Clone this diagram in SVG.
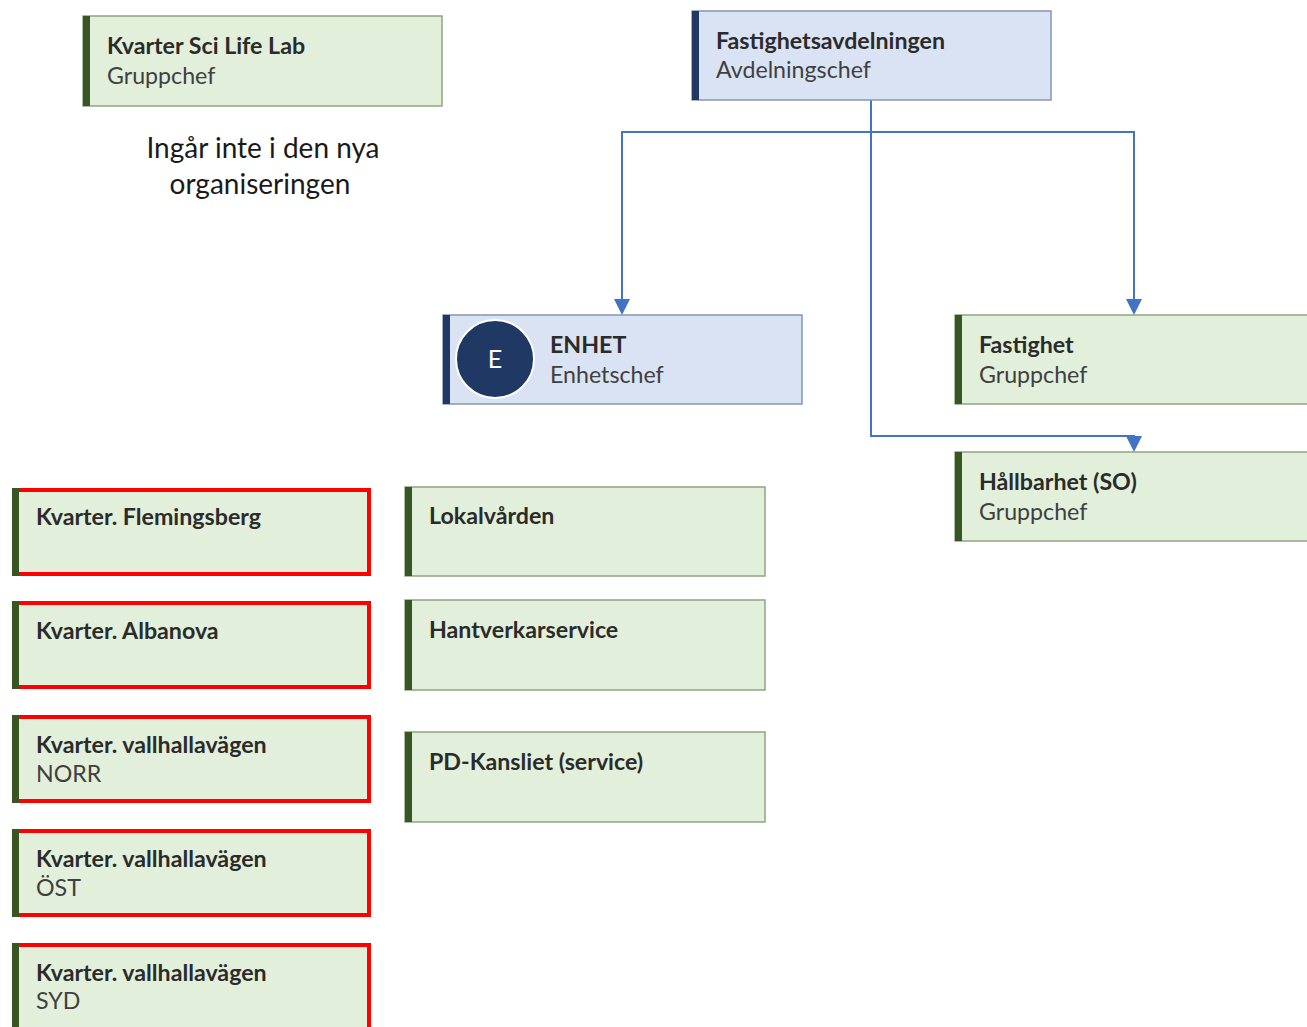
<svg xmlns="http://www.w3.org/2000/svg" width="1307" height="1027" viewBox="0 0 1307 1027">
  <defs>
    <style>
      .g { fill: #e2efda; stroke: #8ea583; stroke-width: 1.5; }
      .b { fill: #dae3f3; stroke: #8497b0; stroke-width: 1.5; }
      .red { fill: #e2efda; stroke: #ff0000; stroke-width: 4; }
      .gbar { fill: #375623; }
      .bbar { fill: #1f3864; }
      .t { font-family: Lato, "Open Sans", sans-serif; font-size: 23.2px; font-weight: 700; fill: #2b2b2b; }
      .s { font-family: Lato, "Open Sans", sans-serif; font-size: 23.2px; fill: #404040; }
      .note { font-family: Lato, "Open Sans", sans-serif; font-size: 28px; fill: #1a1a1a; text-anchor: middle; }
      .conn { fill: none; stroke: #4472c4; stroke-width: 2; }
      .head { fill: #4472c4; }
    </style>
  </defs>
  <rect width="1307" height="1027" fill="#ffffff"/>

  <!-- connectors: elbow lines from the department head, with downward arrowheads -->
  <g id="connectors">
    <path class="conn" d="M871,100 V132 H622 V301"/>
    <path class="conn" d="M871,132 H1134 V301"/>
    <path class="conn" d="M871,132 V436 H1134 V439"/>
    <polygon class="head" points="614,299 630,299 622,315"/>
    <polygon class="head" points="1126,299 1142,299 1134,315"/>
    <polygon class="head" points="1126,436 1142,436 1134,452"/>
  </g>

  <g id="scilifelab">
    <rect class="g" x="83" y="16" width="359" height="90"/>
    <rect class="gbar" x="83" y="16" width="7" height="90"/>
    <text class="t" x="107" y="54">Kvarter Sci Life Lab</text>
    <text class="s" x="107" y="84">Gruppchef</text>
  </g>

  <g id="note">
    <text class="note" x="263" y="158">Ingår inte i den nya</text>
    <text class="note" x="260" y="194">organiseringen</text>
  </g>

  <g id="fastighetsavdelningen">
    <rect class="b" x="692" y="11" width="359" height="89"/>
    <rect class="bbar" x="692" y="11" width="7" height="89"/>
    <text class="t" x="716" y="49">Fastighetsavdelningen</text>
    <text class="s" x="716" y="78">Avdelningschef</text>
  </g>

  <g id="enhet">
    <rect class="b" x="443" y="315" width="359" height="89"/>
    <rect class="bbar" x="443" y="315" width="7" height="89"/>
    <circle cx="495" cy="359" r="39" fill="#1f3864" stroke="#ffffff" stroke-width="2"/>
    <text x="495" y="368" text-anchor="middle" font-family="Lato, 'Open Sans', sans-serif" font-size="25" fill="#ffffff">E</text>
    <text class="t" x="550" y="353">ENHET</text>
    <text class="s" x="550" y="383">Enhetschef</text>
  </g>

  <g id="fastighet">
    <rect class="g" x="955" y="315" width="356" height="89"/>
    <rect class="gbar" x="955" y="315" width="7" height="89"/>
    <text class="t" x="979" y="353">Fastighet</text>
    <text class="s" x="979" y="383">Gruppchef</text>
  </g>

  <g id="hallbarhet">
    <rect class="g" x="955" y="452" width="356" height="89"/>
    <rect class="gbar" x="955" y="452" width="7" height="89"/>
    <text class="t" x="979" y="490">Hållbarhet (SO)</text>
    <text class="s" x="979" y="520">Gruppchef</text>
  </g>

  <g id="flemingsberg">
    <rect class="red" x="14" y="490" width="355" height="84"/>
    <rect class="gbar" x="12" y="488" width="7" height="88"/>
    <text class="t" x="36" y="525">Kvarter. Flemingsberg</text>
  </g>

  <g id="albanova">
    <rect class="red" x="14" y="603" width="355" height="84"/>
    <rect class="gbar" x="12" y="601" width="7" height="88"/>
    <text class="t" x="36" y="639">Kvarter. Albanova</text>
  </g>

  <g id="vallhallavagen-norr">
    <rect class="red" x="14" y="717" width="355" height="84"/>
    <rect class="gbar" x="12" y="715" width="7" height="88"/>
    <text class="t" x="36" y="753">Kvarter. vallhallavägen</text>
    <text class="s" x="36" y="782">NORR</text>
  </g>

  <g id="vallhallavagen-ost">
    <rect class="red" x="14" y="831" width="355" height="84"/>
    <rect class="gbar" x="12" y="829" width="7" height="88"/>
    <text class="t" x="36" y="867">Kvarter. vallhallavägen</text>
    <text class="s" x="36" y="896">ÖST</text>
  </g>

  <g id="vallhallavagen-syd">
    <rect class="red" x="14" y="945" width="355" height="90"/>
    <rect class="gbar" x="12" y="943" width="7" height="90"/>
    <text class="t" x="36" y="981">Kvarter. vallhallavägen</text>
    <text class="s" x="36" y="1009">SYD</text>
  </g>

  <g id="lokalvarden">
    <rect class="g" x="405" y="487" width="360" height="89"/>
    <rect class="gbar" x="405" y="487" width="7" height="89"/>
    <text class="t" x="429" y="524">Lokalvården</text>
  </g>

  <g id="hantverkarservice">
    <rect class="g" x="405" y="600" width="360" height="90"/>
    <rect class="gbar" x="405" y="600" width="7" height="90"/>
    <text class="t" x="429" y="638">Hantverkarservice</text>
  </g>

  <g id="pd-kansliet">
    <rect class="g" x="405" y="732" width="360" height="90"/>
    <rect class="gbar" x="405" y="732" width="7" height="90"/>
    <text class="t" x="429" y="770">PD-Kansliet (service)</text>
  </g>
</svg>
